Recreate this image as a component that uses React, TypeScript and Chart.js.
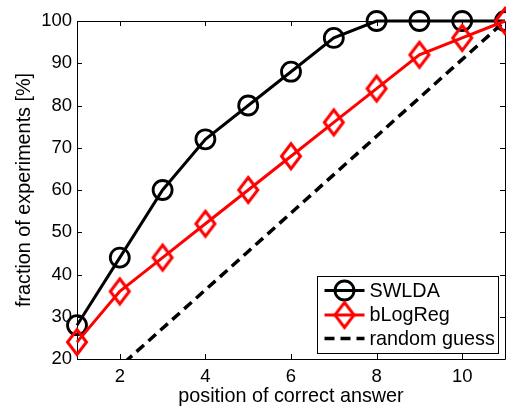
import React, { useEffect, useRef } from "react";
import { Chart, registerables } from "chart.js";

Chart.register(...registerables);

const positions = [1, 2, 3, 4, 5, 6, 7, 8, 9, 10, 11];
const swlda = [28, 44, 60, 72, 80, 88, 96, 100, 100, 100, 100];
const bLogReg = [24, 36, 44, 52, 60, 68, 76, 84, 92, 96, 100];
const randomGuess = [9.09, 18.18, 27.27, 36.36, 45.45, 54.55, 63.64, 72.73, 81.82, 90.91, 100];
const xTickValues = [2, 4, 6, 8, 10];
const yTickValues = [20, 30, 40, 50, 60, 70, 80, 90, 100];

const FONT_FAMILY = "'Liberation Sans', Arial, Helvetica, sans-serif";
const TICK_SIZE = 18.5;
const TEXT_SIZE = 19.8;
const CANVAS_W = 520;
const CANVAS_H = 407;

function makeDiamond(color: string) {
  const c = document.createElement("canvas");
  c.width = 26;
  c.height = 32;
  const ctx = c.getContext("2d")!;
  ctx.strokeStyle = color;
  ctx.lineWidth = 3;
  ctx.lineJoin = "miter";
  ctx.beginPath();
  ctx.moveTo(13, 3.5);
  ctx.lineTo(22.5, 16);
  ctx.lineTo(13, 28.5);
  ctx.lineTo(3.5, 16);
  ctx.closePath();
  ctx.stroke();
  return c;
}

export default function App() {
  const ref = useRef<HTMLCanvasElement>(null);

  useEffect(() => {
    const canvas = ref.current!;
    const diamond = makeDiamond("#ff0000");

    const framePlugin = {
      id: "frame",
      beforeDatasetsDraw(chart: any) {
        const { ctx, chartArea } = chart;
        const { left, right, top, bottom } = chartArea;
        const xs = chart.scales.x;
        const ys = chart.scales.y;
        ctx.save();
        ctx.strokeStyle = "#000";
        ctx.lineWidth = 1;
        ctx.beginPath();
        ctx.rect(Math.round(left) + 0.5, Math.round(top) + 0.5, Math.round(right - left), Math.round(bottom - top));
        ctx.stroke();
        const tl = 5;
        ctx.beginPath();
        xTickValues.forEach((v) => {
          const px = Math.round(xs.getPixelForValue(v)) + 0.5;
          ctx.moveTo(px, bottom);
          ctx.lineTo(px, bottom - tl);
          ctx.moveTo(px, top);
          ctx.lineTo(px, top + tl);
        });
        yTickValues.forEach((v) => {
          const py = Math.round(ys.getPixelForValue(v)) + 0.5;
          ctx.moveTo(left, py);
          ctx.lineTo(left + tl, py);
          ctx.moveTo(right, py);
          ctx.lineTo(right - tl, py);
        });
        ctx.stroke();
        ctx.restore();
      },
    };

    const legendPlugin = {
      id: "customLegend",
      afterDatasetsDraw(chart: any) {
        const { ctx, chartArea } = chart;
        const boxW = 181;
        const boxH = 77;
        const bx = Math.round(chartArea.right - 7 - boxW) + 0.5;
        const by = Math.round(chartArea.bottom - 6 - boxH) + 0.5;
        ctx.save();
        ctx.fillStyle = "#fff";
        ctx.strokeStyle = "#000";
        ctx.lineWidth = 1;
        ctx.fillRect(bx, by, boxW, boxH);
        ctx.strokeRect(bx, by, boxW, boxH);
        const rowYs = [by + 14, by + 38.5, by + 62];
        chart.data.datasets.forEach((ds: any, i: number) => {
          const y = rowYs[i];
          const x0 = bx + 7;
          const x1 = bx + 47;
          ctx.save();
          ctx.strokeStyle = ds.borderColor;
          ctx.lineWidth = ds.borderWidth;
          ctx.setLineDash(ds.borderDash || []);
          ctx.beginPath();
          ctx.moveTo(x0, y);
          ctx.lineTo(x1, y);
          ctx.stroke();
          ctx.restore();
          const cx = (x0 + x1) / 2;
          if (ds.pointStyle === "circle" && ds.pointRadius > 0) {
            ctx.save();
            ctx.strokeStyle = ds.pointBorderColor;
            ctx.lineWidth = ds.pointBorderWidth;
            ctx.beginPath();
            ctx.arc(cx, y, ds.pointRadius, 0, Math.PI * 2);
            ctx.stroke();
            ctx.restore();
          } else if (ds.pointStyle instanceof HTMLCanvasElement) {
            const img = ds.pointStyle;
            ctx.drawImage(img, cx - img.width / 2, y - img.height / 2);
          }
          ctx.fillStyle = "#000";
          ctx.font = `${TEXT_SIZE}px ${FONT_FAMILY}`;
          ctx.textBaseline = "middle";
          ctx.textAlign = "left";
          ctx.fillText(ds.label, x1 + 5, y + 1);
        });
        ctx.restore();
      },
    };

    const tickFont = { family: FONT_FAMILY, size: TICK_SIZE };
    const titleFont = { family: FONT_FAMILY, size: TEXT_SIZE };

    const chart = new Chart(canvas, {
      type: "line",
      data: {
        datasets: [
          {
            label: "SWLDA",
            data: positions.map((x, i) => ({ x, y: swlda[i] })),
            borderColor: "#000000",
            borderWidth: 3,
            pointStyle: "circle",
            pointRadius: 9.5,
            pointBorderColor: "#000000",
            pointBackgroundColor: "rgba(0,0,0,0)",
            pointBorderWidth: 2.8,
            clip: false,
            order: 1,
          } as any,
          {
            label: "bLogReg",
            data: positions.map((x, i) => ({ x, y: bLogReg[i] })),
            borderColor: "#ff0000",
            borderWidth: 3,
            pointStyle: diamond,
            pointRadius: 12,
            pointBorderColor: "#ff0000",
            pointBackgroundColor: "rgba(0,0,0,0)",
            clip: false,
            order: 0,
          } as any,
          {
            label: "random guess",
            data: positions.map((x, i) => ({ x, y: randomGuess[i] })),
            borderColor: "#000000",
            borderWidth: 3.5,
            borderDash: [10, 6],
            pointRadius: 0,
            order: 2,
          } as any,
        ],
      },
      options: {
        animation: false,
        responsive: false,
        events: [],
        layout: { padding: { left: 0, top: 21, right: CANVAS_W - 509, bottom: 0 } },
        plugins: {
          legend: { display: false },
          tooltip: { enabled: false },
        },
        scales: {
          x: {
            type: "linear",
            min: 1,
            max: 11,
            grid: { display: false, drawTicks: false },
            border: { display: false },
            ticks: { font: tickFont, color: "#000", padding: 7, maxRotation: 0, autoSkip: false },
            title: {
              display: true,
              text: "position of correct answer",
              font: titleFont,
              color: "#000",
              padding: { top: 0, bottom: -1 },
            },
            afterBuildTicks: (s: any) => {
              s.ticks = xTickValues.map((v) => ({ value: v }));
            },
            afterFit: (s: any) => {
              s.height = 48;
            },
          },
          y: {
            type: "linear",
            min: 20,
            max: 100,
            grid: { display: false, drawTicks: false },
            border: { display: false },
            ticks: { font: tickFont, color: "#000", padding: 5, autoSkip: false },
            title: {
              display: true,
              text: "fraction of experiments [%]",
              font: titleFont,
              color: "#000",
              padding: { top: 13, bottom: 0 },
            },
            afterBuildTicks: (s: any) => {
              s.ticks = yTickValues.map((v) => ({ value: v }));
            },
            afterFit: (s: any) => {
              s.width = 77;
            },
          },
        },
      } as any,
      plugins: [framePlugin, legendPlugin],
    });

    return () => chart.destroy();
  }, []);

  return (
    <div
      style={{
        position: "fixed",
        left: 0,
        top: 0,
        width: 506,
        height: 407,
        overflow: "hidden",
        background: "#fff",
      }}
    >
      <canvas ref={ref} width={CANVAS_W} height={CANVAS_H} style={{ display: "block" }} />
    </div>
  );
}
